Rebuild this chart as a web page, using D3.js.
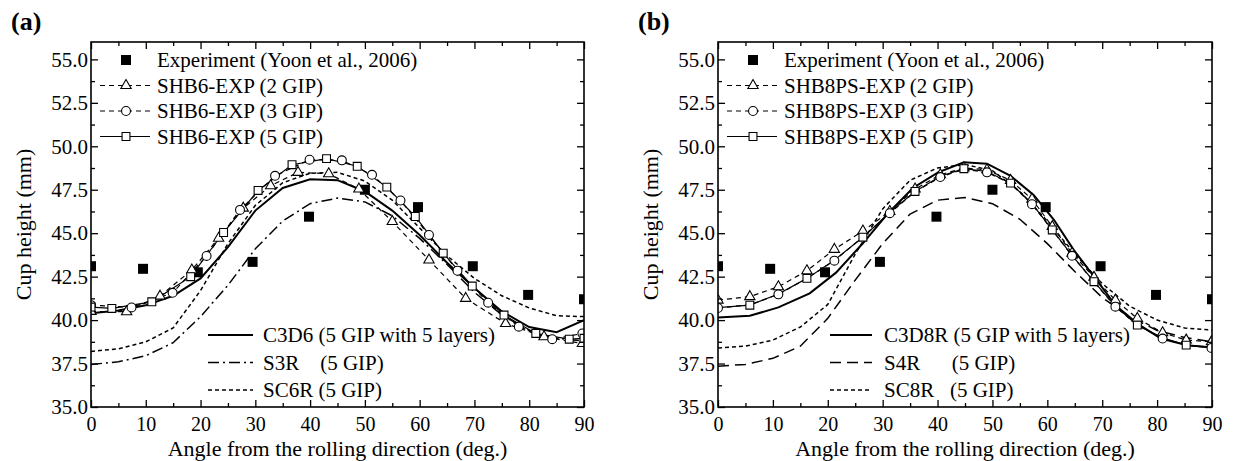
<!DOCTYPE html>
<html>
<head>
<meta charset="utf-8">
<script src="https://cdn.jsdelivr.net/npm/d3@7"></script>
<style>
  body { margin: 0; background: #fff; }
</style>
</head>
<body>
<svg id="chart" width="1233" height="461" style="font-family: 'Liberation Serif', 'DejaVu Serif', serif;"></svg>
<script>
// ---------- data ----------
const xTicks = [0, 10, 20, 30, 40, 50, 60, 70, 80, 90];
const xMinorTicks = [5, 15, 25, 35, 45, 55, 65, 75, 85];
const yTicks = [35, 37.5, 40, 42.5, 45, 47.5, 50, 52.5, 55];
const yMinorTicks = [36.25, 38.75, 41.25, 43.75, 46.25, 48.75, 51.25, 53.75];

// experiment, same in both panels
const expAngle = [0, 9.5, 19.5, 29.5, 39.8, 50, 59.7, 69.7, 79.8, 90];
const expCup = [43.1, 42.95, 42.75, 43.35, 45.95, 47.5, 46.5, 43.1, 41.45, 41.2];

// common 5 deg grid for the curves without markers
const gridAngle = [0, 5, 10, 15, 20, 25, 30, 35, 40, 45, 50, 55, 60, 65, 70, 75, 80, 85, 90];

// panel (a)
const a2Angle = [0, 6.5, 12.6, 18.4, 23.3, 27.8, 32.8, 37.8, 43.4, 48.9, 55, 61.7, 68.4, 75.7, 82.7, 89.7];
const a2Cup = [40.5, 40.48, 41.38, 42.88, 44.71, 46.44, 47.73, 48.5, 48.42, 47.54, 45.67, 43.46, 41.25, 39.8, 39.04, 38.65];
const a3Angle = [0, 7.4, 14.9, 21.1, 27.2, 33.6, 39.9, 45.8, 51.3, 56.5, 61.7, 66.9, 72.5, 78.1, 84.2, 89.7];
const a3Cup = [40.86, 40.73, 41.57, 43.69, 46.34, 48.3, 49.23, 49.19, 48.36, 46.88, 44.9, 42.84, 41.0, 39.62, 38.9, 39.23];
const a5Angle = [0, 3.8, 11.1, 18.2, 24.2, 30.5, 36.7, 43, 48.6, 54, 59.2, 64.3, 69.6, 75.4, 81.2, 87.3, 90];
const a5Cup = [40.75, 40.67, 41.05, 42.5, 45.04, 47.46, 48.94, 49.29, 48.85, 47.65, 45.96, 43.85, 41.96, 40.29, 39.23, 38.9, 38.95];
const aC3D6 = [40.4, 40.55, 40.85, 41.4, 42.4, 44.2, 46.3, 47.6, 48.1, 48.05, 47.4, 46.3, 44.9, 43.3, 41.85, 40.5, 39.6, 39.3, 40.0];
const aS3R = [37.45, 37.6, 37.95, 38.7, 40.2, 42.0, 44.1, 45.7, 46.7, 47.02, 46.8, 46.0, 44.7, 43.2, 41.6, 40.3, 39.4, 38.95, 38.8];
const aSC6R = [38.2, 38.35, 38.75, 39.55, 41.7, 44.4, 46.6, 47.9, 48.45, 48.5, 48.0, 46.9, 45.3, 43.7, 42.4, 41.4, 40.7, 40.25, 40.2];

// panel (b)
const bAngle = [0, 5.8, 11, 16.2, 21.2, 26.4, 31.3, 35.9, 40.5, 44.8, 49, 53.3, 57.2, 60.9, 64.5, 68.5, 72.4, 76.4, 81, 85.3, 89.9];
const b2Cup = [41.15, 41.35, 41.92, 42.84, 44.07, 45.13, 46.25, 47.54, 48.36, 48.75, 48.65, 48.04, 46.96, 45.38, 43.85, 42.46, 41.15, 40.1, 39.27, 38.85, 38.75];
const b3Cup = [40.7, 40.88, 41.48, 42.4, 43.42, 44.78, 46.15, 47.38, 48.23, 48.68, 48.5, 47.86, 46.67, 45.18, 43.7, 42.2, 40.77, 39.7, 38.94, 38.56, 38.4];
const b5Cup = [40.72, 40.86, 41.5, 42.4, 43.45, 44.77, 46.2, 47.4, 48.28, 48.71, 48.55, 47.88, 46.7, 45.19, 43.72, 42.21, 40.8, 39.71, 38.98, 38.56, 38.45];
const bC3Angle = [0, 5.8, 11, 16.7, 21.5, 26.4, 31, 35.5, 40.1, 44.8, 49, 53.3, 57.5, 61.2, 64.8, 68.5, 72.4, 76.4, 80.7, 85.3, 89.9];
const bC3D8R = [40.15, 40.25, 40.73, 41.54, 42.73, 44.42, 46.15, 47.6, 48.5, 49.08, 49.0, 48.3, 47.2, 45.77, 44.04, 42.5, 40.86, 39.8, 38.94, 38.56, 38.42];
const bS4R = [37.35, 37.45, 37.8, 38.5, 40.1, 42.3, 44.4, 46.1, 46.9, 47.05, 46.7, 45.8, 44.4, 42.8, 41.3, 40.2, 39.4, 39.0, 38.75];
const bSC8R = [38.4, 38.5, 38.85, 39.6, 40.9, 43.8, 46.4, 48.05, 48.75, 48.95, 48.6, 47.4, 45.7, 43.8, 42.1, 40.8, 40.0, 39.55, 39.42];

const FONT = "'Liberation Serif', 'DejaVu Serif', serif";
const zip = (xs, ys) => xs.map((x, i) => ({ x: x, y: ys[i] }));

class CupHeightPanel {
    constructor(_config, _series) {
        this.config = {
            parentElement: _config.parentElement,
            tag: _config.tag,
            left: _config.left,
            top: 42,
            width: _config.width,
            height: 365,
            bottomLegend: _config.bottomLegend
        };
        this.series = _series;
        this.initVis();
    }

    initVis() {
        const vis = this;
        const c = vis.config;

        vis.svg = d3.select(c.parentElement);
        vis.g = vis.svg.append("g").attr("transform", `translate(${c.left},${c.top})`);

        vis.x = d3.scaleLinear().domain([0, 90]).range([0, c.width]);
        vis.y = d3.scaleLinear().domain([35, 56]).range([c.height, 0]);

        const clipId = "clip-" + c.tag.replace(/\W/g, "");
        vis.g.append("clipPath").attr("id", clipId)
            .append("rect").attr("width", c.width).attr("height", c.height);
        vis.plot = vis.g.append("g").attr("clip-path", `url(#${clipId})`);

        vis.drawAxes();
        vis.drawSeries();
        vis.drawLegend();

        // frame
        vis.g.append("rect")
            .attr("width", c.width).attr("height", c.height)
            .attr("fill", "none").attr("stroke", "#000").attr("stroke-width", 1.6);

        // panel tag
        vis.svg.append("text")
            .attr("x", c.left - 80).attr("y", 30)
            .attr("font-family", FONT)
            .attr("font-size", 26).attr("font-weight", "bold")
            .text(c.tag);

        // axis titles
        vis.svg.append("text")
            .attr("x", c.left + c.width / 2).attr("y", 456)
            .attr("font-family", FONT)
            .attr("text-anchor", "middle").attr("font-size", 22)
            .text("Angle from the rolling direction (deg.)");

        vis.svg.append("text")
            .attr("transform", `translate(${c.left - 68},${c.top + c.height / 2}) rotate(-90)`)
            .attr("font-family", FONT)
            .attr("text-anchor", "middle").attr("dy", "0.35em").attr("font-size", 22)
            .text("Cup height (mm)");
    }

    drawAxes() {
        const vis = this;
        const c = vis.config;
        const style = (sel, size) => {
            sel.attr("font-size", size || 21).attr("font-family", FONT);
            sel.select(".domain").remove();
            sel.selectAll("line").attr("stroke-width", 1.3);
        };

        vis.g.append("g").attr("transform", `translate(0,${c.height})`)
            .call(d3.axisBottom(vis.x).tickValues(xTicks).tickSizeInner(-7).tickSizeOuter(0).tickPadding(10).tickFormat(d3.format("d")))
            .call(style, 20);
        vis.g.append("g").attr("transform", `translate(0,${c.height})`)
            .call(d3.axisBottom(vis.x).tickValues(xMinorTicks).tickSizeInner(-4).tickSizeOuter(0).tickFormat(""))
            .call(style);
        vis.g.append("g")
            .call(d3.axisTop(vis.x).tickValues(xTicks).tickSizeInner(-7).tickSizeOuter(0).tickFormat(""))
            .call(style);
        vis.g.append("g")
            .call(d3.axisTop(vis.x).tickValues(xMinorTicks).tickSizeInner(-4).tickSizeOuter(0).tickFormat(""))
            .call(style);

        vis.g.append("g")
            .call(d3.axisLeft(vis.y).tickValues(yTicks).tickSizeInner(-7).tickSizeOuter(0).tickPadding(3).tickFormat(d3.format(".1f")))
            .call(style, 21);
        vis.g.append("g")
            .call(d3.axisLeft(vis.y).tickValues(yMinorTicks).tickSizeInner(-4).tickSizeOuter(0).tickFormat(""))
            .call(style);
        vis.g.append("g").attr("transform", `translate(${c.width},0)`)
            .call(d3.axisRight(vis.y).tickValues(yTicks).tickSizeInner(-7).tickSizeOuter(0).tickFormat(""))
            .call(style);
        vis.g.append("g").attr("transform", `translate(${c.width},0)`)
            .call(d3.axisRight(vis.y).tickValues(yMinorTicks).tickSizeInner(-4).tickSizeOuter(0).tickFormat(""))
            .call(style);
    }

    markerPath(type) {
        if (type === "triangle") return d3.symbol(d3.symbolTriangle, 46)();
        if (type === "circle") return d3.symbol(d3.symbolCircle, 62)();
        if (type === "square") return d3.symbol(d3.symbolSquare, 62)();
        if (type === "fsquare") return d3.symbol(d3.symbolSquare, 100)();
        return null;
    }

    drawSeries() {
        const vis = this;
        const line = d3.line().x(d => vis.x(d.x)).y(d => vis.y(d.y));

        vis.series.filter(s => s.lineWidth > 0).forEach(s => {
            vis.plot.append("path")
                .datum(s.points)
                .attr("d", line)
                .attr("fill", "none")
                .attr("stroke", "#000")
                .attr("stroke-width", s.lineWidth)
                .attr("stroke-dasharray", s.dash || null);
        });

        vis.series.filter(s => s.marker).forEach(s => {
            const every = s.every || 1, offset = s.offset || 0;
            const pts = s.points.filter((d, i) => i >= offset && (i - offset) % every === 0);
            vis.plot.selectAll(null)
                .data(pts)
                .join("path")
                .attr("transform", d => `translate(${vis.x(d.x)},${vis.y(d.y)})`)
                .attr("d", vis.markerPath(s.marker))
                .attr("fill", s.marker === "fsquare" ? "#000" : "#fff")
                .attr("stroke", "#000")
                .attr("stroke-width", s.marker === "fsquare" ? 0 : 1.1);
        });
    }

    drawLegend() {
        const vis = this;
        const c = vis.config;
        const lg = vis.svg.append("g");

        const item = (s, x0, x1, xm, xt, yy) => {
            if (s.lineWidth > 0) {
                lg.append("line")
                    .attr("x1", x0).attr("x2", x1).attr("y1", yy).attr("y2", yy)
                    .attr("stroke", "#000").attr("stroke-width", s.lineWidth)
                    .attr("stroke-dasharray", s.dash || null);
            }
            if (s.marker) {
                lg.append("path")
                    .attr("transform", `translate(${xm},${yy})`)
                    .attr("d", vis.markerPath(s.marker))
                    .attr("fill", s.marker === "fsquare" ? "#000" : "#fff")
                    .attr("stroke", "#000")
                    .attr("stroke-width", s.marker === "fsquare" ? 0 : 1.1);
            }
            lg.append("text")
                .attr("x", xt).attr("y", yy).attr("dy", "0.34em")
                .attr("font-family", FONT)
                .attr("font-size", 21)
                .style("white-space", "pre")
                .text(s.label);
        };

        const top = vis.series.filter(s => s.legend === "top");
        top.forEach((s, i) => {
            item(s, c.left + 9, c.left + 59, c.left + 35, c.left + 66, 60 + i * 25.5);
        });

        const bl = c.bottomLegend;
        const bottom = vis.series.filter(s => s.legend === "bottom");
        bottom.forEach((s, i) => {
            item(s, c.left + bl.x0, c.left + bl.x1, 0, c.left + bl.xt, 335 + i * 27.5);
        });
    }
}

// ---------- series setup ----------
const panelA = [
    { label: "C3D6 (5 GIP with 5 layers)", points: zip(gridAngle, aC3D6), lineWidth: 2, legend: "bottom" },
    { label: "S3R    (5 GIP)", points: zip(gridAngle, aS3R), lineWidth: 1.5, dash: "11,4,2,4", legend: "bottom" },
    { label: "SC6R (5 GIP)", points: zip(gridAngle, aSC6R), lineWidth: 1.5, dash: "4,3", legend: "bottom" },
    { label: "Experiment (Yoon et al., 2006)", points: zip(expAngle, expCup), lineWidth: 0, marker: "fsquare", legend: "top" },
    { label: "SHB6-EXP (2 GIP)", points: zip(a2Angle, a2Cup), lineWidth: 1.2, dash: "5,4", marker: "triangle", legend: "top" },
    { label: "SHB6-EXP (3 GIP)", points: zip(a3Angle, a3Cup), lineWidth: 1.2, dash: "5,4", marker: "circle", legend: "top" },
    { label: "SHB6-EXP (5 GIP)", points: zip(a5Angle, a5Cup), lineWidth: 1.2, marker: "square", legend: "top" }
];

const panelB = [
    { label: "C3D8R (5 GIP with 5 layers)", points: zip(bC3Angle, bC3D8R), lineWidth: 2, legend: "bottom" },
    { label: "S4R      (5 GIP)", points: zip(gridAngle, bS4R), lineWidth: 1.5, dash: "11,6", legend: "bottom" },
    { label: "SC8R   (5 GIP)", points: zip(gridAngle, bSC8R), lineWidth: 1.5, dash: "4,3", legend: "bottom" },
    { label: "Experiment (Yoon et al., 2006)", points: zip(expAngle, expCup), lineWidth: 0, marker: "fsquare", legend: "top" },
    { label: "SHB8PS-EXP (2 GIP)", points: zip(bAngle, b2Cup), lineWidth: 1.2, dash: "5,4", marker: "triangle", legend: "top" },
    { label: "SHB8PS-EXP (3 GIP)", points: zip(bAngle, b3Cup), lineWidth: 1.2, dash: "5,4", marker: "circle", every: 2, offset: 0, legend: "top" },
    { label: "SHB8PS-EXP (5 GIP)", points: zip(bAngle, b5Cup), lineWidth: 1.2, marker: "square", every: 2, offset: 1, legend: "top" }
];

new CupHeightPanel({
    parentElement: "#chart", tag: "(a)", left: 91, width: 493,
    bottomLegend: { x0: 117, x1: 162, xt: 172 }
}, panelA);

new CupHeightPanel({
    parentElement: "#chart", tag: "(b)", left: 718, width: 494,
    bottomLegend: { x0: 112, x1: 154, xt: 166 }
}, panelB);
</script>
</body>
</html>
